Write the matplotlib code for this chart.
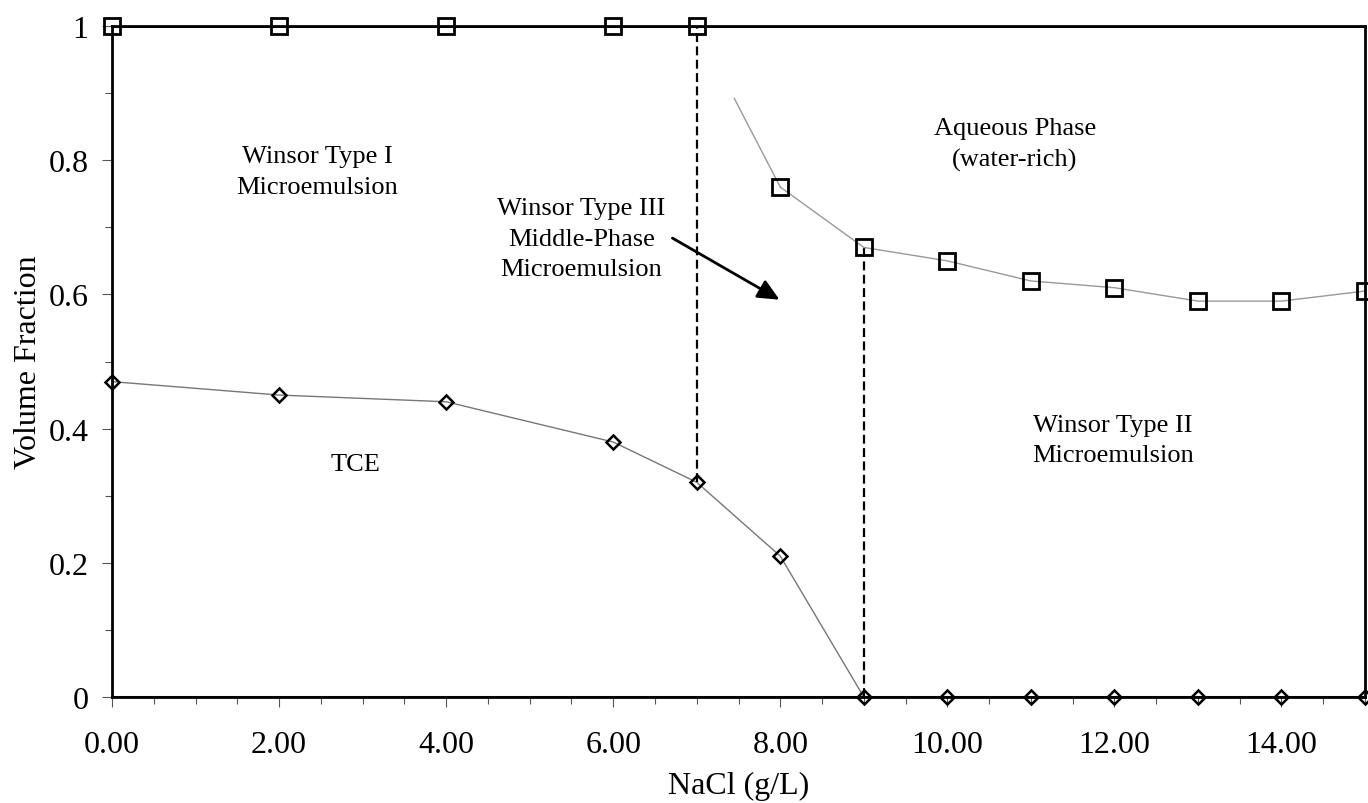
import numpy as np
import matplotlib
matplotlib.use("Agg")
import matplotlib.pyplot as plt
from matplotlib.ticker import MultipleLocator, FixedLocator, FixedFormatter

plt.rcParams['font.family'] = ['Liberation Serif', 'DejaVu Serif']

# Data
nacl_aq = [0, 2, 4, 6, 7, 8, 9, 10, 11, 12, 13, 14, 15]
aq_frac = [1.0, 1.0, 1.0, 1.0, 1.0, 0.76, 0.67, 0.65, 0.62, 0.61, 0.59, 0.59, 0.605]
nacl_tce = [0, 2, 4, 6, 7, 8, 9, 10, 11, 12, 13, 14, 15]
tce_frac = [0.47, 0.45, 0.44, 0.38, 0.32, 0.21, 0.0, 0.0, 0.0, 0.0, 0.0, 0.0, 0.0]
x_ticks = [0, 2, 4, 6, 8, 10, 12, 14]
x_tick_labels = ["0.00", "2.00", "4.00", "6.00", "8.00", "10.00", "12.00", "14.00"]
y_ticks = [0, 0.2, 0.4, 0.6, 0.8, 1.0]
y_tick_labels = ["0", "0.2", "0.4", "0.6", "0.8", "1"]
type3_lo = 7.0   # start of middle phase region
type3_hi = 9.0   # end of middle phase region

fig = plt.figure(figsize=(13.68, 8.04), dpi=100)
ax = fig.add_axes([112/1368, 1-698/804, (1365-112)/1368, (698-27)/804])

xa = np.array(nacl_aq, dtype=float)
ya = np.array(aq_frac)
xt = np.array(nacl_tce, dtype=float)
yt = np.array(tce_frac)

# top boundary (Type I region): bold line at y=1, bottom line at y=0
ax.plot([0, 15], [1, 1], color='black', lw=2.2, zorder=3)
ax.plot([0, 15], [0, 0], color='black', lw=2.2, zorder=3)

# aqueous-phase boundary curve (thin gray), beginning partway from 7 to 8
seg_x = np.linspace(7.45, 8, 10)
seg_y = np.interp(seg_x, xa, ya)
ax.plot(seg_x, seg_y, color='#999999', lw=1.0, zorder=2)
m = xa >= 8
ax.plot(xa[m], ya[m], color='#999999', lw=1.0, zorder=2)
ax.plot(xa, ya, linestyle='none', marker='s', markersize=12, markerfacecolor='none',
        markeredgecolor='black', markeredgewidth=2.0, zorder=5, clip_on=False)

# TCE curve
mt = xt <= 9
ax.plot(xt[mt], yt[mt], color='#777777', lw=1.0, zorder=2)
ax.plot(xt, yt, linestyle='none', marker='D', markersize=7, markerfacecolor='none',
        markeredgecolor='black', markeredgewidth=1.8, zorder=5, clip_on=False)

# vertical dashed dividers
ax.plot([type3_lo, type3_lo], [np.interp(type3_lo, xt, yt), np.interp(type3_lo, xa, ya)],
        color='black', lw=1.6, linestyle=(0, (4, 2)), zorder=4)
ax.plot([type3_hi, type3_hi], [np.interp(type3_hi, xt, yt), np.interp(type3_hi, xa, ya)],
        color='black', lw=1.6, linestyle=(0, (4, 2)), zorder=4)

# annotations
fs = 19
ls = 1.5
ax.text(2.455, 0.783, "Winsor Type I\nMicroemulsion", ha='center', va='center', fontsize=fs, linespacing=ls)
ax.text(5.62, 0.683, "Winsor Type III\nMiddle-Phase\nMicroemulsion", ha='center', va='center', fontsize=fs, linespacing=ls)
ax.text(10.81, 0.824, "Aqueous Phase\n(water-rich)", ha='center', va='center', fontsize=fs, linespacing=ls)
ax.text(11.98, 0.383, "Winsor Type II\nMicroemulsion", ha='center', va='center', fontsize=fs, linespacing=ls)
ax.text(2.91, 0.347, "TCE", ha='center', va='center', fontsize=fs)
ax.annotate("", xy=(8.02, 0.59), xytext=(6.68, 0.686),
            arrowprops=dict(arrowstyle='-|>,head_length=1.3,head_width=0.6', color='black', lw=2.0))

ax.set_xlim(0, 15)
ax.set_ylim(0, 1)
ax.xaxis.set_major_locator(FixedLocator(x_ticks))
ax.xaxis.set_major_formatter(FixedFormatter(x_tick_labels))
ax.xaxis.set_minor_locator(MultipleLocator(0.5))
ax.yaxis.set_major_locator(FixedLocator(y_ticks))
ax.yaxis.set_major_formatter(FixedFormatter(y_tick_labels))
ax.yaxis.set_minor_locator(MultipleLocator(0.1))
ax.tick_params(axis='both', which='both', direction='out', color='#555555', width=0.8)
ax.tick_params(axis='x', which='major', length=7, labelsize=23, pad=17)
ax.tick_params(axis='y', which='major', length=7, labelsize=23, pad=10)
ax.tick_params(axis='both', which='minor', length=5)
for s in ['left', 'bottom', 'right', 'top']:
    ax.spines[s].set_linewidth(2.0)
ax.set_xlabel("NaCl (g/L)", fontsize=23, labelpad=8)
ax.set_ylabel("Volume Fraction", fontsize=23, labelpad=4)

fig.savefig("out.png", dpi=100)
